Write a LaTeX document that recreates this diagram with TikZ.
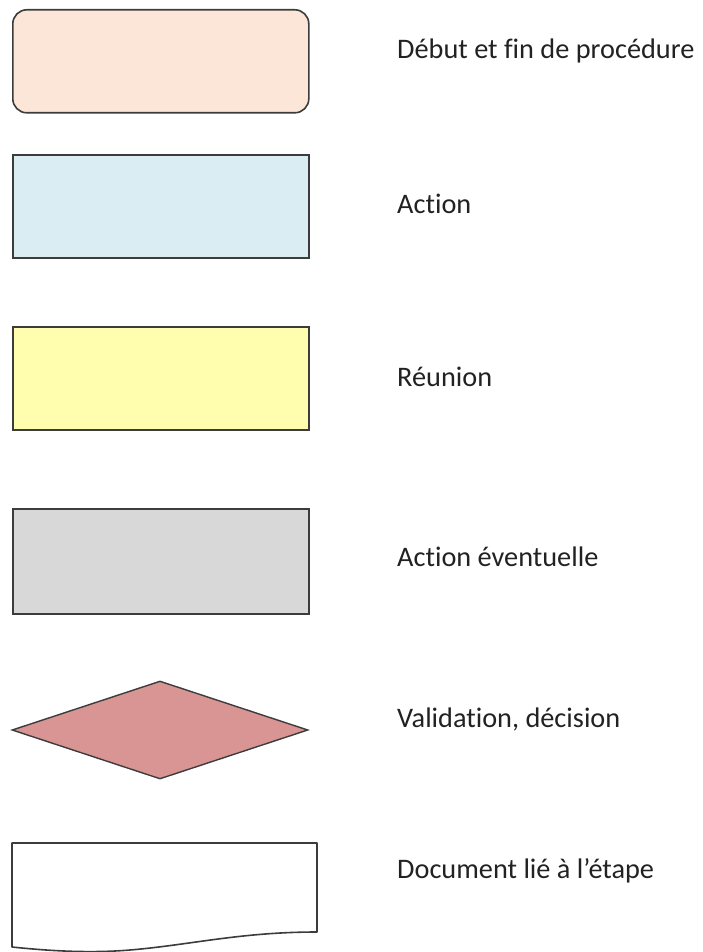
\documentclass[tikz,border=0pt]{standalone}
\usepackage{fontspec}
\setmainfont{Carlito}[Ligatures=NoCommon]
\usetikzlibrary{shapes.geometric}
\definecolor{edge}{HTML}{3C3C3C}
\definecolor{peach}{HTML}{FBE6D8}
\definecolor{lblue}{HTML}{DAEDF2}
\definecolor{lyellow}{HTML}{FFFDAE}
\definecolor{lgray}{HTML}{D8D8D8}
\definecolor{rose}{HTML}{D99594}
\definecolor{txt}{HTML}{222222}
\tikzset{
  shapebox/.style={draw=edge, line width=1.6pt, minimum width=296pt, minimum height=103pt, inner sep=0pt, anchor=north west},
  legend/.style={anchor=base west, inner sep=0pt, text=txt, font=\fontsize{28.3}{32}\selectfont},
}
\begin{document}
\begin{tikzpicture}[x=1pt,y=-1pt]
\useasboundingbox (0,0) rectangle (702,952);
\node[shapebox, fill=peach, rounded corners=14pt] (debut) at (12,9) {};
\node[shapebox, fill=lblue] (action) at (12,154) {};
\node[shapebox, fill=lyellow] (reunion) at (12,326) {};
\node[shapebox, fill=lgray, minimum height=105pt] (eventuelle) at (12,508) {};
\node[draw=edge, line width=1.4pt, fill=rose, diamond, inner sep=0pt, minimum width=296pt, minimum height=98pt] (decision) at (160,730) {};
\draw[draw=edge, line width=1.6pt, fill=white, line join=round]
  (12,843) -- (317,843) -- (317,932)
  .. controls (240,932) and (190,945) .. (130,950)
  .. controls (90,953.3) and (50,951) .. (12,947) -- cycle;
\coordinate (document) at (165,895);
\node[legend] (t1) at (397,59) {Début et fin de procédure};
\node[legend] (t2) at (397,213) {Action};
\node[legend] (t3) at (397,386) {Réunion};
\node[legend] (t4) at (397,566) {Action éventuelle};
\node[legend] (t5) at (397,727) {Validation, décision};
\node[legend] (t6) at (397,878) {Document lié à l’étape};
\end{tikzpicture}
\end{document}
